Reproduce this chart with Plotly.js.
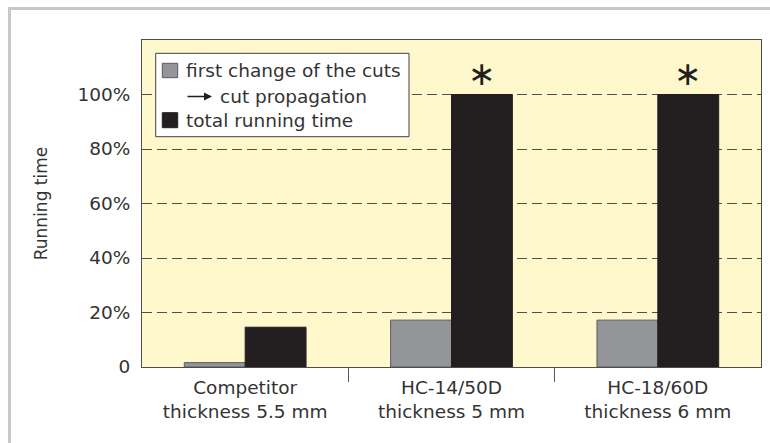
<!DOCTYPE html>
<html>
<head>
<meta charset="utf-8">
<script src="https://cdn.plot.ly/plotly-3.0.1.min.js"></script>
<style>
  html, body { margin: 0; padding: 0; background: #ffffff; }
  #chart { position: absolute; left: 0; top: 0; width: 770px; height: 443px; }
  #frame { position: absolute; left: 8px; top: 7px; width: 770px; height: 443px;
           border-left: 3px solid #c8c8cc; border-top: 3px solid #c8c8cc; pointer-events: none; }
</style>
</head>
<body>
<div id="chart"></div>
<div id="frame"></div>
<script>
// ---- data ----
const categories = ["Competitor<br>thickness 5.5 mm", "HC-14/50D<br>thickness 5 mm", "HC-18/60D<br>thickness 6 mm"];
const firstChange = [1.6, 17.2, 17.2];
const totalTime = [14.6, 100, 100];
const marked = [false, true, true];
const seriesNames = ["first change of the cuts", "cut propagation", "total running time"];
const yTickVals = [0, 20, 40, 60, 80, 100];
const yTickText = ["0", "20%", "40%", "60%", "80%", "100%"];
const boundaryTicks = [0.5, 1.5];

// ---- style ----
const FONT = "DejaVu Sans, Liberation Sans, Arial, sans-serif";
const TXT = "#333333";
const bargap = 0.41;
const L = 142, R = 761, T = 40, B = 367;
const px = x => (x - L) / (R - L);
const py = y => (B - y) / (B - T);

const traces = [
  { type: "bar", x: categories, y: firstChange, name: seriesNames[0],
    marker: { color: "#939598", line: { color: "#5a5b5d", width: 1 } }, showlegend: false, hoverinfo: "y" },
  { type: "bar", x: categories, y: totalTime, name: seriesNames[2],
    marker: { color: "#231f20", line: { color: "#231f20", width: 1 } }, showlegend: false, hoverinfo: "y" },
  { type: "scatter", x: [], y: [], xaxis: "x2", yaxis: "y", showlegend: false, hoverinfo: "skip" }
];

const annotations = [];
const barOffset = (1 - bargap) / 4;
marked.forEach((m, i) => {
  if (m) annotations.push({
    x: i + barOffset, xref: "x", y: totalTime[i], yref: "y",
    text: "∗", showarrow: false, yanchor: "middle", yshift: 21,
    font: { family: FONT, size: 33, color: "#231f20" }
  });
});

// custom legend
const legendFont = { family: FONT, size: 18.5, color: TXT };
annotations.push(
  { xref: "paper", yref: "paper", x: px(184), y: py(70.5), xanchor: "left", yanchor: "middle",
    text: seriesNames[0], showarrow: false, font: legendFont },
  { xref: "paper", yref: "paper", x: px(218), y: py(96.5), xanchor: "left", yanchor: "middle",
    text: seriesNames[1], showarrow: false, font: legendFont },
  { xref: "paper", yref: "paper", x: px(184), y: py(120), xanchor: "left", yanchor: "middle",
    text: seriesNames[2], showarrow: false, font: legendFont },
  { xref: "paper", yref: "paper", x: px(212), y: py(96.5), ax: -26, ay: 0, text: "",
    showarrow: true, arrowhead: 2, arrowsize: 1, arrowwidth: 1.6, arrowcolor: "#231f20" }
);

const shapes = [
  { type: "rect", xref: "paper", yref: "paper", x0: px(155.7), x1: px(409), y0: py(53.3), y1: py(136.7),
    fillcolor: "#ffffff", line: { color: "#414042", width: 1 }, layer: "above" },
  { type: "rect", xref: "paper", yref: "paper", x0: px(162.3), x1: px(177.7), y0: py(63.3), y1: py(77.7),
    fillcolor: "#939598", line: { color: "#5a5b5d", width: 1 }, layer: "above" },
  { type: "rect", xref: "paper", yref: "paper", x0: px(162.3), x1: px(177.7), y0: py(112.7), y1: py(127.7),
    fillcolor: "#231f20", line: { color: "#231f20", width: 1 }, layer: "above" }
];

const layout = {
  width: 770, height: 443,
  margin: { l: L, r: 770 - R, t: T, b: 443 - B, pad: 0 },
  paper_bgcolor: "rgba(0,0,0,0)",
  plot_bgcolor: "#fef8cc",
  barmode: "group", bargap: bargap, bargroupgap: 0,
  showlegend: false,
  font: { family: FONT, color: TXT, size: 18.5 },
  xaxis: {
    type: "category", ticks: "", showline: true, mirror: true, linecolor: "#4d4d4f", linewidth: 1,
    tickfont: { family: FONT, size: 18.5, color: TXT }, showgrid: false, zeroline: false,
    ticklabelstandoff: 4, fixedrange: true
  },
  xaxis2: {
    overlaying: "x", anchor: "y", side: "bottom", range: [-0.5, 2.5], tickvals: boundaryTicks,
    showticklabels: false, ticks: "outside", ticklen: 14, tickcolor: "#58595b", tickwidth: 1,
    showgrid: false, zeroline: false, showline: false, fixedrange: true
  },
  yaxis: {
    range: [0, 120], tickvals: yTickVals, ticktext: yTickText, ticks: "",
    showline: true, mirror: true, linecolor: "#4d4d4f", linewidth: 1,
    showgrid: true, gridcolor: "#4f4f51", gridwidth: 1, griddash: "10px,5px", zeroline: false,
    tickfont: { family: FONT, size: 18.5, color: TXT }, ticklabelstandoff: 7,
    title: { text: "Running time", font: { family: FONT, size: 17, color: TXT }, standoff: 25 },
    fixedrange: true
  },
  shapes: shapes,
  annotations: annotations
};

Plotly.newPlot("chart", traces, layout, { displayModeBar: false, staticPlot: true });
</script>
</body>
</html>
